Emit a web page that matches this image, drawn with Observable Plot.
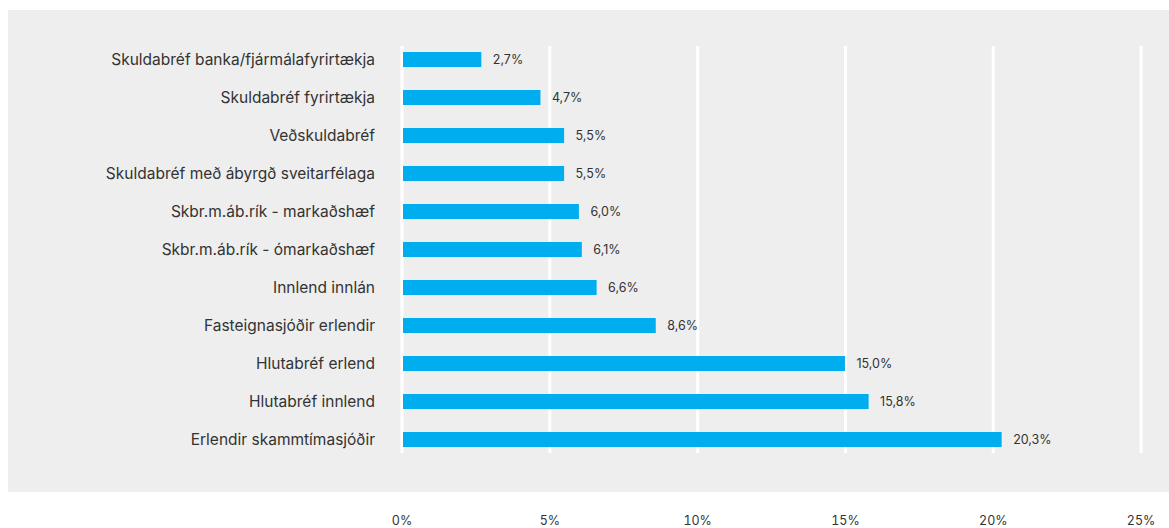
<!DOCTYPE html>
<html>
<head>
<meta charset="utf-8">
<script src="https://cdn.jsdelivr.net/npm/d3@7"></script>
<script src="https://cdn.jsdelivr.net/npm/@observablehq/plot@0.6"></script>
<style>
  html, body { margin: 0; padding: 0; background: #fff; }
  #chart { position: relative; width: 1169px; height: 528px; }
  #panel { position: absolute; left: 8px; top: 10px; width: 1161px; height: 482px; background: #eeeeee; }
  #chart svg { position: absolute; left: 0; top: 0; }
</style>
</head>
<body>
<div id="chart"><div id="panel"></div></div>
<script>
const categories = [
  "Skuldabréf banka/fjármálafyrirtækja",
  "Skuldabréf fyrirtækja",
  "Veðskuldabréf",
  "Skuldabréf með ábyrgð sveitarfélaga",
  "Skbr.m.áb.rík - markaðshæf",
  "Skbr.m.áb.rík - ómarkaðshæf",
  "Innlend innlán",
  "Fasteignasjóðir erlendir",
  "Hlutabréf erlend",
  "Hlutabréf innlend",
  "Erlendir skammtímasjóðir"
];
const values = [2.7, 4.7, 5.5, 5.5, 6.0, 6.1, 6.6, 8.6, 15.0, 15.8, 20.3];
const xTicks = [0, 5, 10, 15, 20, 25];

const data = categories.map((c, i) => ({category: c, value: values[i]}));
const fmt = v => v.toFixed(1).replace(".", ",") + "%";

const chart = Plot.plot({
  width: 1169,
  height: 528,
  marginLeft: 401.5,
  marginRight: 28.4,
  marginTop: 28.5,
  marginBottom: 57.5,
  style: {background: "transparent", fontFamily: "Inter, 'Noto Sans', sans-serif", color: "#333"},
  x: {domain: [0, 25], ticks: xTicks, tickFormat: d => d + "%"},
  y: {domain: categories, padding: 0.6, label: null},
  marks: [
    Plot.ruleX(xTicks, {stroke: "#ffffff", strokeWidth: 3, insetTop: 17.5, insetBottom: 17.5}),
    Plot.barX(data, {y: "category", x: "value", fill: "#00aeef", insetLeft: 1.5}),
    Plot.text(data, {y: "category", x: "value", text: d => fmt(d.value), textAnchor: "start", dx: 11, fontSize: 12.5, fill: "#333"}),
    Plot.axisY({tickSize: 0, tickPadding: 27, fontSize: 15.5, fill: "#333", label: null}),
    Plot.axisX({ticks: xTicks, tickFormat: d => d + "%", tickSize: 0, tickPadding: 45, fontSize: 12.5, fill: "#333", label: null})
  ]
});
document.getElementById("chart").appendChild(chart);
</script>
</body>
</html>
